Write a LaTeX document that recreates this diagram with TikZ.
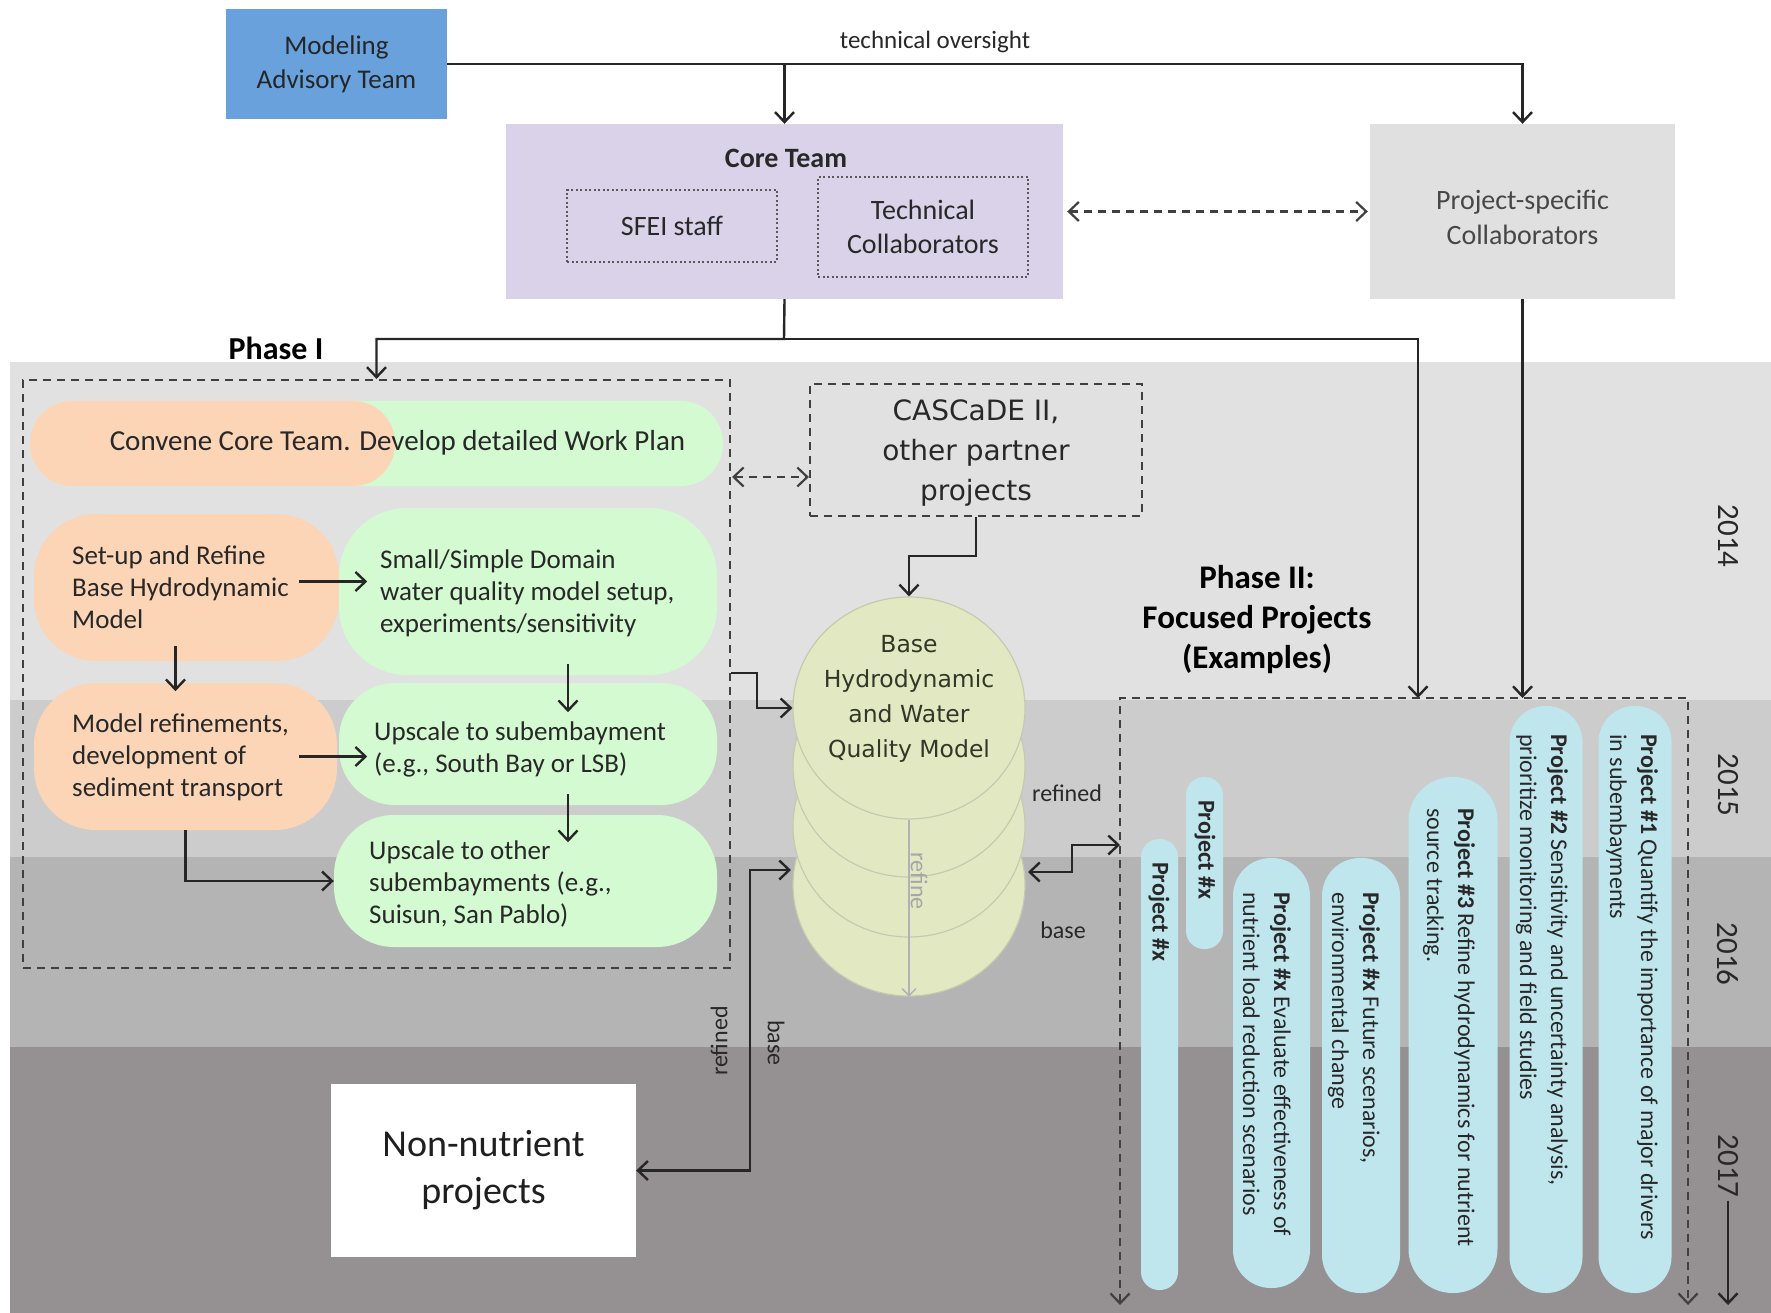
\documentclass[tikz,border=0pt]{standalone}
\usepackage{fontspec}
\setmainfont{Carlito}
\newfontfamily\verd{DejaVu Sans}
\usetikzlibrary{arrows.meta,shapes.geometric,calc}
\definecolor{bandA}{RGB}{225,225,225}
\definecolor{bandB}{RGB}{204,204,204}
\definecolor{bandC}{RGB}{180,180,180}
\definecolor{bandD}{RGB}{149,144,146}
\definecolor{matblue}{RGB}{104,161,220}
\definecolor{corelav}{RGB}{217,210,233}
\definecolor{pscgray}{RGB}{224,224,224}
\definecolor{peach}{RGB}{251,213,182}
\definecolor{mint}{RGB}{211,250,208}
\definecolor{projblue}{RGB}{191,229,237}
\definecolor{modelfill}{RGB}{226,233,194}
\definecolor{modeledge}{RGB}{196,202,176}
\definecolor{ink}{RGB}{40,40,40}
\newcommand\fsz[2]{\fontsize{#1}{#2}\selectfont}
\tikzset{
  ln/.style={line width=2.4pt, draw=black!85},
  dashline/.style={line width=2.2pt, draw=black!75, dash pattern=on 8pt off 6pt},
  dotbox/.style={draw=black!65, line width=2pt, dash pattern=on 2pt off 2.5pt, inner sep=0, align=center, font=\fsz{28}{34}, text=ink},
  box/.style={inner sep=0, align=center},
  pill/.style={inner sep=0},
  txt/.style={inner sep=0, align=left, text=ink},
  cyl/.style={ellipse, fill=modelfill, draw=modeledge, line width=1.2pt, minimum width=232pt, minimum height=222pt, inner sep=0},
  proj/.style={fill=projblue, inner sep=0},
  ptxt/.style={rotate=-90, anchor=west, align=left, inner sep=0, font=\fsz{24}{31}, text=ink},
  year/.style={rotate=-90, inner sep=0, font=\fsz{31}{34}, text=ink},
  lbl/.style={inner sep=0, font=\fsz{24}{28}, text=ink}
}
\begin{document}
\begin{tikzpicture}[x=1pt,y=-1pt,>={Straight Barb[length=10pt,width=19pt]}]
\useasboundingbox (0,0) rectangle (1771,1313);
% time bands
\fill[bandA] (10,362) rectangle (1771,700);
\fill[bandB] (10,700) rectangle (1771,857);
\fill[bandC] (10,857) rectangle (1771,1047);
\fill[bandD] (10,1047) rectangle (1771,1313);

% top boxes
\node[box, fill=matblue, minimum width=221pt, minimum height=110pt, font=\fsz{27}{34}, text=black!85] (mat) at (336.5,64) {Modeling\\Advisory Team};
\node[box, fill=corelav, minimum width=557pt, minimum height=175pt] (core) at (784.5,211.5) {};
\node[txt, font=\bfseries\fsz{28}{34}] (coreT) at (786,158) {Core Team};
\node[dotbox, minimum width=210pt, minimum height=72pt] (sfei) at (672,226) {SFEI staff};
\node[dotbox, minimum width=210pt, minimum height=100pt] (tech) at (923,227) {Technical\\Collaborators};
\node[box, fill=pscgray, minimum width=305pt, minimum height=175pt] (psc) at (1522.5,211.5) {};
\node[txt, align=center, font=\fsz{28}{35}, text=black!72] (pscT) at (1522.5,217) {Project-specific\\Collaborators};

\draw[ln,->] (mat.east) -| (psc.north);
\draw[ln,->] (mat.east -| core.north) -- (core.north);
\node[lbl, font=\fsz{25}{28}] (tos) at (935,42) {technical oversight};
\draw[dashline,<->, shorten <=4pt, shorten >=2pt] (core.east) -- (psc.west);

% Phase I frame
\node[txt, font=\bfseries\fsz{32}{36}, text=black] (ph1) at (276,348) {Phase I};
\node[dashline, minimum width=707pt, minimum height=588pt, inner sep=0] (p1) at (376.5,674) {};

\coordinate (j1) at (784,339);
\coordinate (p2nw) at (1120,698);
\coordinate (p2ne) at (1688,698);
\draw[ln,->] (core.south) -- (j1) -| (p1.north);
\draw[ln,->] (j1) -| (1418,698);
\draw[ln,->] (psc.south) -- (psc.south |- p2nw);

% Phase I contents
\node[pill, fill=mint, minimum width=693pt, minimum height=85pt, rounded corners=42pt] (conG) at (376.5,443.5) {};
\node[pill, fill=peach, minimum width=365pt, minimum height=85pt, rounded corners=42pt] (conP) at (212.5,443.5) {};
\node[txt, font=\fsz{29}{32}] (conT) at (397.5,443) {Convene Core Team. Develop detailed Work Plan};

\node[pill, fill=peach, minimum width=305pt, minimum height=147pt, rounded corners=62pt] (setup) at (186.5,587.5) {};
\node[pill, fill=mint, minimum width=378pt, minimum height=167pt, rounded corners=68pt] (small) at (528,591.5) {};
\node[pill, fill=peach, minimum width=303pt, minimum height=147pt, rounded corners=62pt] (model) at (185.5,756.5) {};
\node[pill, fill=mint, minimum width=378pt, minimum height=122pt, rounded corners=56pt] (upsub) at (528,744) {};
\node[pill, fill=mint, minimum width=383pt, minimum height=132pt, rounded corners=60pt] (upoth) at (525.5,881) {};

\node[txt, anchor=west, font=\fsz{27}{32}] (setupT) at (72,587.5) {Set-up and Refine\\Base Hydrodynamic\\Model};
\node[txt, anchor=west, font=\fsz{27}{32}] (smallT) at (380,593) {Small/Simple Domain\\water quality model setup,\\experiments/sensitivity};
\node[txt, anchor=west, font=\fsz{27}{32}] (modelT) at (72,757) {Model refinements,\\development of\\sediment transport};
\node[txt, anchor=west, font=\fsz{27}{32}] (upsubT) at (374,749) {Upscale to subembayment\\(e.g., South Bay or LSB)};
\node[txt, anchor=west, font=\fsz{27}{32}] (upothT) at (369,884) {Upscale to other\\subembayments (e.g.,\\Suisun, San Pablo)};

\draw[ln,->] ($(setup.east)+(-40,-6)$) -- ++(68,0);
\draw[ln,->] ($(model.east)+(-38,0)$) -- ++(68,0);
\draw[ln,->] ($(setup.south)+(-11,-15)$) -- ++(0,45);
\draw[ln,->] ($(small.south)+(40,-11)$) -- ++(0,48);
\draw[ln,->] ($(upsub.south)+(40,-11)$) -- ++(0,48);
\draw[ln,->] (model.south) |- (upoth.west);

% CASCaDE
\node[dashline, minimum width=332pt, minimum height=132pt, inner sep=0] (cas) at (976,450) {};
\node[txt, align=center, font=\verd\fsz{28}{40}] (casT) at (976,453) {CASCaDE II,\\other partner\\projects};
\draw[dashline,<->] (732,477) -- (cas.west |- 0,477);

% model cylinder
\node[cyl] (m4) at (909,885) {};
\node[cyl] (m3) at (909,826) {};
\node[cyl] (m2) at (909,766) {};
\node[cyl] (m1) at (909,708) {};
\node[txt, align=center, font=\verd\fsz{23.5}{35}, text={rgb,255:red,50;green,55;blue,40}] (mT) at (909,699) {Base\\Hydrodynamic\\and Water\\Quality Model};
\draw[line width=1.5pt, draw=black!30, -{Straight Barb[length=7pt,width=14pt]}] (m1.south) -- (m4.south);
\node[inner sep=0, rotate=-90, font=\fsz{24}{26}, text=black!35] (refl) at (919,881) {refine};

\draw[ln,->] (cas.south) -- (976,556) -| (m1.north);
\draw[ln,->] (p1.east |- 0,673) -- (757,673) |- (m1.west);

% non-nutrient
\node[box, fill=white, minimum width=305pt, minimum height=173pt, font=\fsz{38}{47}, text=black!88] (nn) at (483.5,1170.5) {Non-nutrient\\projects};
\draw[ln,<->] (nn.east) -| (750,870) -- (791,870);
\node[lbl, rotate=90] (lr1) at (719,1041) {refined};
\node[lbl, rotate=-90] (lb1) at (776,1043) {base};

% right link to Phase II
\draw[ln,<->] (1028,872) -- (1072,872) -- (1072,845) -- (p2nw |- 0,845);
\node[lbl] (lr2) at (1067,793) {refined};
\node[lbl] (lb2) at (1063,930) {base};

% Phase II
\node[txt, align=center, font=\bfseries\fsz{33}{40}, text=black] (ph2) at (1257,619.5) {Phase II:\\Focused Projects\\(Examples)};
\draw[dashline,<->] (1120,1305) -- (p2nw) -- (p2ne) -- (1688,1305);

% projects
\node[proj, minimum width=73pt, minimum height=587pt, rounded corners=36pt] (pr1) at (1635,999.5) {};
\node[proj, minimum width=73pt, minimum height=587pt, rounded corners=36pt] (pr2) at (1546,999.5) {};
\node[proj, minimum width=89pt, minimum height=516pt, rounded corners=44pt] (pr3) at (1453,1035) {};
\node[proj, minimum width=78pt, minimum height=435pt, rounded corners=38pt] (prf) at (1361,1075.5) {};
\node[proj, minimum width=77pt, minimum height=430pt, rounded corners=38pt] (pre) at (1271.5,1073) {};
\node[proj, minimum width=37pt, minimum height=172pt, rounded corners=18pt] (prs) at (1204.5,863) {};
\node[proj, minimum width=37pt, minimum height=451pt, rounded corners=18pt] (prl) at (1159.5,1064.5) {};

\node[ptxt] (pr1T) at (1632,734) {\textbf{Project \#1} Quantify the importance of major drivers\\in subembayments};
\node[ptxt] (pr2T) at (1542,734) {\textbf{Project \#2} Sensitivity and uncertainty analysis,\\prioritize monitoring and field studies};
\node[ptxt] (pr3T) at (1449,808) {\textbf{Project \#3} Refine hydrodynamics for nutrient\\source tracking.};
\node[ptxt] (prfT) at (1354,892) {\textbf{Project \#x} Future scenarios,\\environmental change};
\node[ptxt] (preT) at (1267,892) {\textbf{Project \#x} Evaluate effectiveness of\\nutrient load reduction scenarios};
\node[ptxt] (prsT) at (1205,800) {\textbf{Project \#x}};
\node[ptxt] (prlT) at (1159,862) {\textbf{Project \#x}};

% years
\node[year] (y14) at (1728,536) {2014};
\node[year] (y15) at (1728,785) {2015};
\node[year] (y16) at (1728,954) {2016};
\node[year] (y17) at (1728,1166) {2017};
\draw[line width=2.4pt, draw=black!85, ->] ($(y17.east)+(0,3)$) -- (1728,1305);
\end{tikzpicture}
\end{document}
